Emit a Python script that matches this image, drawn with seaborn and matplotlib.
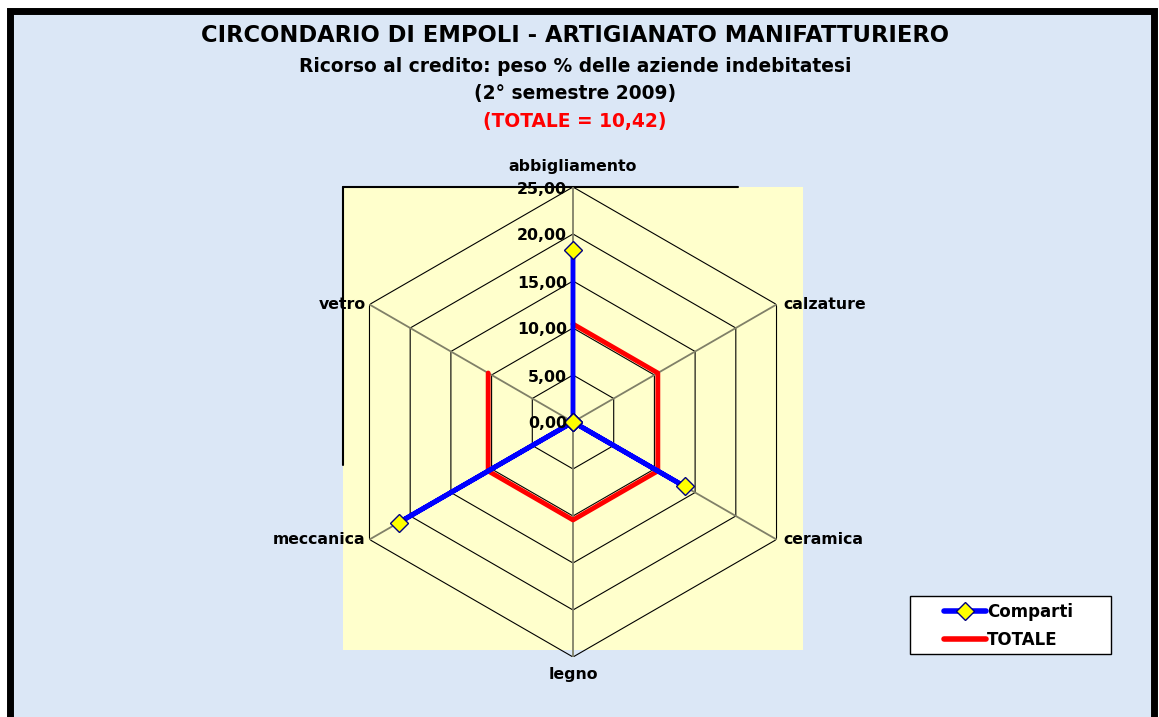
import numpy as np
import pandas as pd
import seaborn as sns
import matplotlib.pyplot as plt
from matplotlib.lines import Line2D
from matplotlib.patches import Rectangle

# === Data ===
categories = ["abbigliamento", "calzature", "ceramica", "legno", "meccanica", "vetro"]
comparti = [18.3, 0.0, 13.7, 0.0, 21.4, 0.0]
totale = 10.42
radial_ticks = [0, 5, 10, 15, 20, 25]
radial_labels = ["0,00", "5,00", "10,00", "15,00", "20,00", "25,00"]

title = "CIRCONDARIO DI EMPOLI - ARTIGIANATO MANIFATTURIERO"
subtitle1 = "Ricorso al credito: peso % delle aziende indebitatesi"
subtitle2 = "(2° semestre 2009)"
subtitle3 = "(TOTALE = 10,42)"

sns.set_style("white")
plt.rcParams['font.family'] = ['DejaVu Sans']
plt.rcParams['font.weight'] = 'bold'
plt.rcParams['text.color'] = 'black'

W, H = 1159, 717
fig = plt.figure(figsize=(W / 100, H / 100), dpi=100)
fig.patch.set_facecolor("white")

# page background + frame
fig.patches.append(Rectangle((10 / W, -0.05), 1144 / W, 1.05 - 11 / H, transform=fig.transFigure,
                             facecolor="#dbe7f6", edgecolor="black", lw=5, zorder=0))
# plot area
fig.patches.append(Rectangle((343 / W, 1 - 650 / H), 460 / W, 463 / H, transform=fig.transFigure,
                             facecolor="#ffffcc", edgecolor="none", zorder=1))
fig.lines.append(Line2D([343 / W, 738 / W], [1 - 187 / H, 1 - 187 / H], transform=fig.transFigure,
                        color="black", lw=1.5, zorder=2))
fig.lines.append(Line2D([343 / W, 343 / W], [1 - 187 / H, 1 - 465 / H], transform=fig.transFigure,
                        color="black", lw=1.5, zorder=2))
# legend box
fig.patches.append(Rectangle((910 / W, 1 - 654 / H), 201 / W, 58 / H, transform=fig.transFigure,
                             facecolor="white", edgecolor="black", lw=1, zorder=2))

# === Radar axes ===
cx, cy, R = 573, 422, 235
ax = fig.add_axes([(cx - R) / W, (H - cy - R) / H, 2 * R / W, 2 * R / H], projection="polar")
ax.set_zorder(3)
ax.patch.set_alpha(0)
ax.set_theta_zero_location("N")
ax.set_theta_direction(-1)
ax.set_ylim(0, 25)
ax.grid(False)
ax.spines["polar"].set_visible(False)
ax.set_xticks([])
ax.set_yticks([])

n = len(categories)
theta = np.arange(n) * 2 * np.pi / n
theta_c = np.append(theta, theta[0])

# hexagonal grid and spokes
for r in radial_ticks[1:]:
    ax.plot(theta_c, [r] * (n + 1), color="black", lw=0.8, zorder=1)
for t in theta:
    ax.plot([t, t], [0, 25], color="#808068", lw=1.3, zorder=1)

df = pd.DataFrame({
    "theta": np.concatenate([theta_c, theta_c]),
    "value": comparti + [comparti[0]] + [totale] * (n + 1),
    "serie": ["Comparti"] * (n + 1) + ["TOTALE"] * (n + 1),
})
sns.lineplot(data=df[df.serie == "TOTALE"], x="theta", y="value", sort=False, ax=ax,
             color="#ff0000", lw=3.5, zorder=3, legend=False)
sns.lineplot(data=df[df.serie == "Comparti"], x="theta", y="value", sort=False, ax=ax,
             color="#0000ff", lw=3.5, marker="D", markersize=9, markerfacecolor="#ffff00",
             markeredgecolor="#000080", markeredgewidth=1, zorder=4, legend=False)
ax.set_xlabel("")
ax.set_ylabel("")

# radial labels
for r, lab in zip(radial_ticks, radial_labels):
    ax.annotate(lab, xy=(0, r), xytext=(-6, -2), textcoords="offset pixels",
                ha="right", va="center", fontsize=11.3, fontweight="bold", zorder=5)

# category labels
offsets = [(0, 21, "center"), (7, 0, "left"), (7, 0, "left"),
           (0, -18, "center"), (-4, 0, "right"), (-4, 0, "right")]
for t, lab, (dx, dy, ha) in zip(theta, categories, offsets):
    ax.annotate(lab, xy=(t, 25), xytext=(dx, dy), textcoords="offset pixels",
                ha=ha, va="center", fontsize=11.3, fontweight="bold", annotation_clip=False)

# === Titles ===
fig.text(575 / W, 1 - 35 / H, title, ha="center", va="center", fontsize=16.3, fontweight="bold")
fig.text(575 / W, 1 - 66 / H, subtitle1, ha="center", va="center", fontsize=13.4, fontweight="bold")
fig.text(575 / W, 1 - 94 / H, subtitle2, ha="center", va="center", fontsize=13.4, fontweight="bold")
fig.text(575 / W, 1 - 121 / H, subtitle3, ha="center", va="center", fontsize=13.4, fontweight="bold",
         color="#ff0000")

# === Legend ===
handles = [
    Line2D([], [], color="#0000ff", lw=4, marker="D", markersize=9, markerfacecolor="#ffff00",
           markeredgecolor="#000080"),
    Line2D([], [], color="#ff0000", lw=4),
]
leg = fig.legend(handles, ["Comparti", "TOTALE"], loc="center left",
                 bbox_to_anchor=(944 / W, 1 - 626 / H), frameon=False,
                 prop={"size": 12, "weight": "bold"}, handlelength=2.5, handletextpad=0.1,
                 borderpad=0, labelspacing=0.6, borderaxespad=0)
leg.set_zorder(4)

fig.savefig("out.png", dpi=100)
